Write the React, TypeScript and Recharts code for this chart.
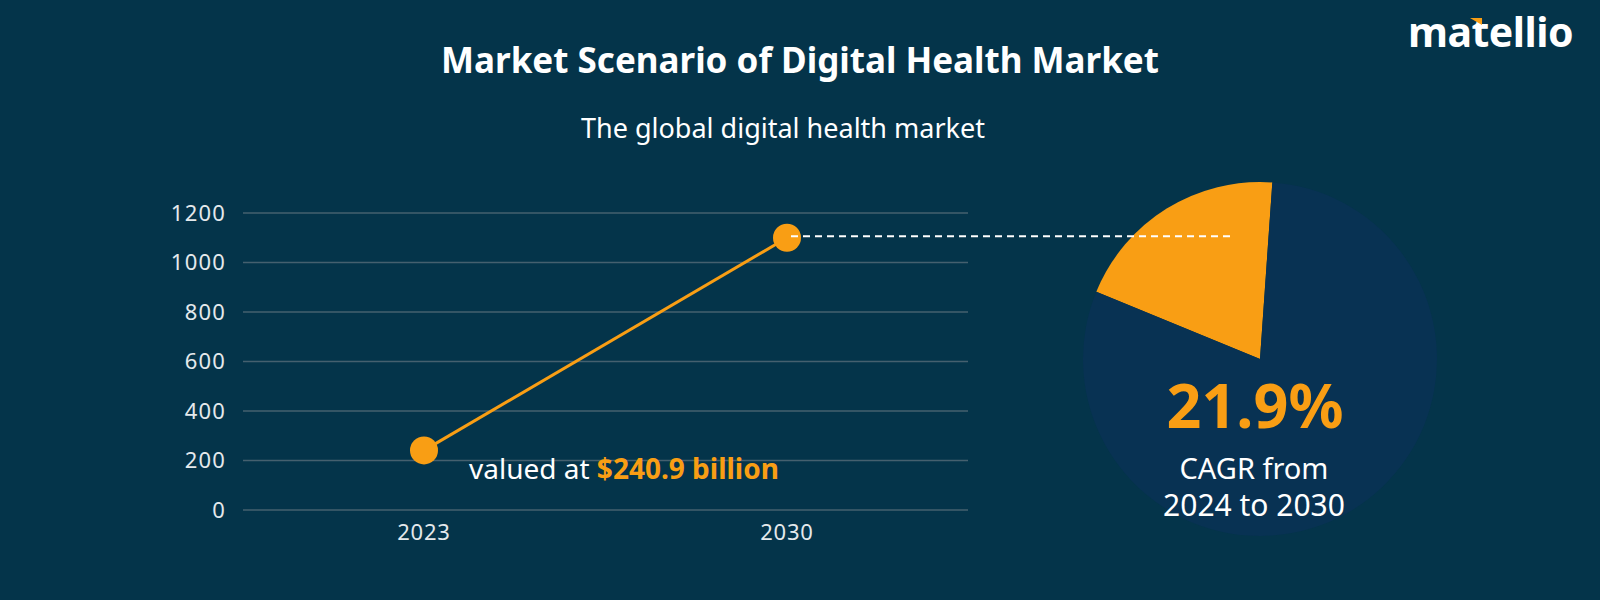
import React from "react";
import { LineChart, Line, XAxis, YAxis, CartesianGrid, PieChart, Pie, Cell } from "recharts";

const YEARS = ["2023", "2030"];
const MARKET_VALUES = [240.9, 1100];
const Y_TICKS = [0, 200, 400, 600, 800, 1000, 1200];
const PIE_LABELS = ["CAGR share", "Remainder"];
const PIE_VALUES = [19.9, 80.1];

const BG = "#04344A";
const PIE_BG = "#083253";
const ORANGE = "#F99E14";
const GRID = "#45606F";
const TICK = "#E4E9EC";
const FONT = "'Noto Sans', 'Open Sans', sans-serif";
const DASH_END_X = 1230;

const lineData = YEARS.map((year, i) => ({ year, value: MARKET_VALUES[i] }));
const pieData = PIE_LABELS.map((name, i) => ({ name, value: PIE_VALUES[i] }));

const renderDot = (props: any) => {
  const { cx, cy, index } = props;
  return (
    <g key={`dot-${index}`}>
      <circle cx={cx} cy={cy} r={14} fill={ORANGE} />
      {index === YEARS.length - 1 && (
        <line
          x1={cx + 4}
          y1={cy - 1.5}
          x2={DASH_END_X}
          y2={cy - 1.5}
          stroke="#FFFFFF"
          strokeWidth={2}
          strokeDasharray="7 5"
        />
      )}
    </g>
  );
};

export default function App() {
  return (
    <div
      style={{
        position: "absolute",
        left: 0,
        top: 0,
        width: 1600,
        height: 600,
        background: BG,
        overflow: "hidden",
        fontFamily: FONT,
      }}
    >
      <div style={{ position: "absolute", left: 0, top: 0 }}>
        <PieChart width={1600} height={600} margin={{ top: 0, right: 0, bottom: 0, left: 0 }}>
          <Pie
            data={pieData}
            dataKey="value"
            nameKey="name"
            cx={1260}
            cy={359}
            outerRadius={177}
            innerRadius={0}
            startAngle={86}
            endAngle={446}
            stroke="none"
            isAnimationActive={false}
          >
            <Cell fill={ORANGE} />
            <Cell fill={PIE_BG} />
          </Pie>
        </PieChart>
      </div>
      <div style={{ position: "absolute", left: 0, top: 0 }}>
        <LineChart
          width={1600}
          height={600}
          data={lineData}
          margin={{ top: 213, right: 632, bottom: 60, left: 143 }}
        >
          <CartesianGrid horizontal vertical={false} stroke={GRID} strokeWidth={1.5} />
          <XAxis
            dataKey="year"
            scale="point"
            padding={{ left: 181, right: 181 }}
            axisLine={false}
            tickLine={false}
            tickSize={0}
            tickMargin={14}
            height={30}
            tick={{ fill: TICK, fontSize: 22, fontFamily: FONT, letterSpacing: 0.8 }}
          />
          <YAxis
            domain={[0, 1200]}
            ticks={Y_TICKS}
            interval={0}
            axisLine={false}
            tickLine={false}
            tickSize={0}
            tickMargin={17}
            width={100}
            tick={{ fill: TICK, fontSize: 22, fontFamily: FONT, letterSpacing: 1.2 }}
          />
          <Line
            type="linear"
            dataKey="value"
            stroke={ORANGE}
            strokeWidth={3}
            dot={renderDot}
            activeDot={false}
            isAnimationActive={false}
          />
        </LineChart>
      </div>
      <svg
        width={1600}
        height={600}
        style={{ position: "absolute", left: 0, top: 0, pointerEvents: "none" }}
      >
        <text x={800} y={73} textAnchor="middle" fill="#FFFFFF" fontSize={35} fontWeight={700} fontFamily={FONT}>
          Market Scenario of Digital Health Market
        </text>
        <text x={783} y={138} textAnchor="middle" fill="#FFFFFF" fontSize={27} fontFamily={FONT}>
          The global digital health market
        </text>
        <text x={469} y={479} fill="#FFFFFF" fontSize={28} fontFamily={FONT}>
          valued at{" "}
          <tspan fill={ORANGE} fontWeight={700}>
            $240.9 billion
          </tspan>
        </text>
        <text x={1255} y={428} textAnchor="middle" fill={ORANGE} fontSize={61} fontWeight={700} fontFamily={FONT}>
          21.9%
        </text>
        <text x={1254} y={479} textAnchor="middle" fill="#FFFFFF" fontSize={29} fontFamily={FONT}>
          CAGR from
        </text>
        <text x={1254} y={516} textAnchor="middle" fill="#FFFFFF" fontSize={30} fontFamily={FONT}>
          2024 to 2030
        </text>
        <text x={1408} y={47} fill="#FFFFFF" fontSize={41} fontWeight={700} fontFamily={FONT} letterSpacing={-0.5}>
          matellio
        </text>
        <polygon points="1470,18 1482,18 1482,25" fill={ORANGE} />
      </svg>
    </div>
  );
}
